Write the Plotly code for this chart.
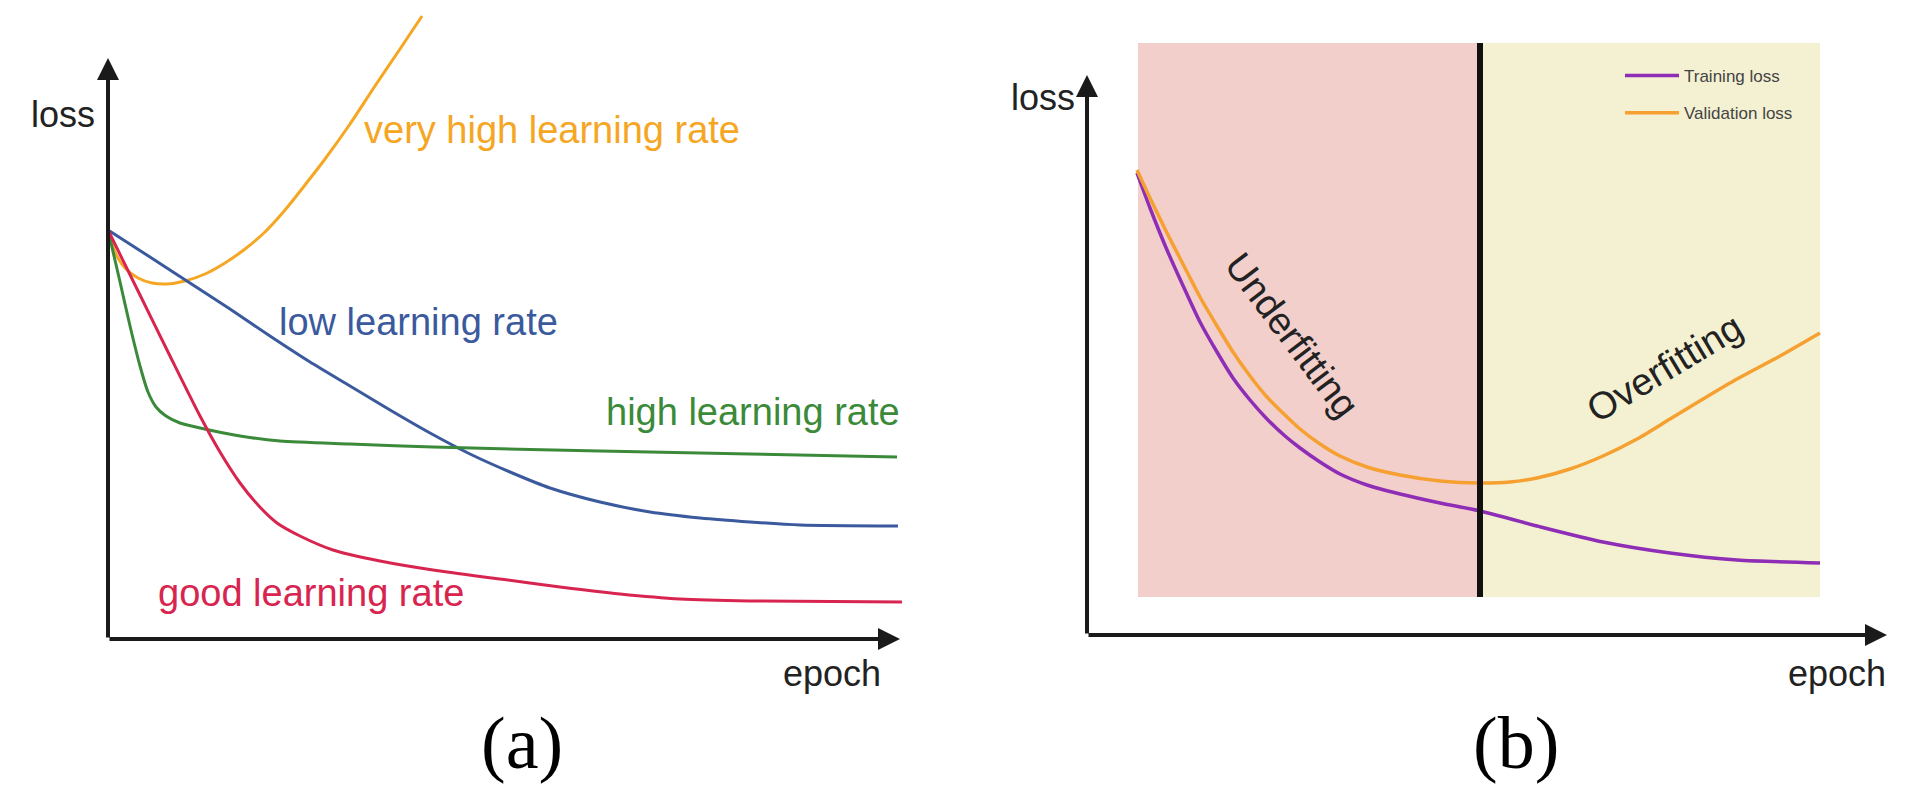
import plotly.graph_objects as go

# ---------------- Panel (a): learning rates ----------------
a_very_high_epoch = [0, 0.88, 2.15, 3.79, 5.56, 7.45, 9.72, 12.25, 14.77, 17.30, 19.82, 22.35, 24.87, 27.40, 30.56, 33.71, 36.87, 39.65]
a_very_high_loss = [81.8, 77.4, 74.2, 72.2, 71.2, 71.0, 71.6, 73.0, 75.2, 78.0, 81.4, 85.8, 90.8, 96.0, 103.0, 110.6, 118.0, 124.6]

a_low_epoch = [0, 5.30, 10.35, 15.40, 20.45, 25.51, 30.56, 35.61, 40.66, 45.71, 50.76, 55.81, 62.12, 68.43, 74.75, 81.06, 87.37, 99.75]
a_low_loss = [81.8, 76.4, 71.2, 66.0, 60.6, 55.4, 50.6, 45.8, 41.2, 37.0, 33.4, 30.2, 27.4, 25.4, 24.2, 23.4, 22.8, 22.6]

a_high_epoch = [0, 1.52, 2.78, 4.04, 5.05, 6.06, 7.32, 9.09, 11.62, 16.67, 21.72, 30.56, 41.04, 62.12, 81.06, 99.62]
a_high_loss = [81.8, 71.4, 62.6, 54.6, 49.4, 46.4, 44.6, 43.2, 42.2, 40.6, 39.6, 39.0, 38.4, 37.6, 37.0, 36.4]

a_good_epoch = [0, 4.04, 7.83, 11.62, 14.14, 16.67, 18.94, 21.34, 24.24, 28.41, 34.34, 41.04, 49.49, 57.07, 64.65, 72.22, 81.06, 100.25]
a_good_loss = [81.8, 68.8, 56.6, 44.6, 37.4, 31.2, 26.8, 23.2, 20.6, 17.8, 15.6, 13.8, 12.0, 10.4, 9.0, 8.0, 7.6, 7.4]

a_labels = ["very high learning rate", "low learning rate", "high learning rate", "good learning rate"]

# ---------------- Panel (b): under/overfitting ----------------
b_train_epoch = [6.25, 7.875, 10.0, 12.25, 14.125, 16.25, 18.25, 20.375, 22.5, 24.75, 26.625, 29.125, 31.625, 35.0,
                 39.125, 44.125, 49.125, 56.25, 64.5, 72.875, 81.25, 91.625]
b_train_loss = [92.4, 85.4, 77.0, 69.0, 62.6, 56.6, 51.4, 47.0, 43.2, 39.8, 37.4, 34.6, 32.2, 30.0,
                28.2, 26.4, 24.8, 21.8, 18.6, 16.4, 15.0, 14.4]

b_val_epoch = [6.25, 7.875, 10.0, 12.25, 14.125, 16.25, 18.25, 20.375, 22.5, 24.75, 26.625, 29.125, 31.625, 35.0,
               39.125, 44.125, 49.125, 52.875, 56.25, 60.375, 64.5, 68.75, 72.875, 77.0, 81.25, 86.625, 91.625]
b_val_loss = [93.0, 87.4, 80.4, 73.4, 67.6, 61.8, 56.6, 51.8, 47.6, 44.0, 41.2, 38.2, 35.8, 33.6,
              32.0, 30.8, 30.4, 30.6, 31.4, 33.2, 35.8, 39.2, 43.2, 47.2, 51.2, 55.8, 60.4]

b_region_epochs = [6.375, 49.125, 91.625]   # start, split, end
b_region_loss = [7.6, 118.4]                # bottom, top
b_series_names = ["Training loss", "Validation loss"]

# ---------------- Styling ----------------
C_ORANGE = "#F5A623"
C_BLUE = "#3B5A9D"
C_GREEN = "#3B8A3A"
C_RED = "#D8254F"
C_PURPLE = "#8E2DB5"
C_VAL = "#F5A030"
TXT = "#222222"
FONT = "Liberation Sans, Arial, Helvetica, sans-serif"
SERIF = "Liberation Serif, Times New Roman, serif"

W, H = 1920, 797
PAGE_OFF = 8  # default page margin of the html body

# axis scaling (screen pixel of origin, pixels per unit)
A_X0, A_SX, A_Y0, A_SY = 108, 7.92, 639, 5.0
B_X0, B_SX, B_Y0, B_SY = 1087, 8.0, 635, 5.0

def xr(x0, sx, left, right):
    return [(left + PAGE_OFF - x0) / sx, (right + PAGE_OFF - x0) / sx]

def yr(y0, sy):
    return [(y0 - (H + PAGE_OFF)) / sy, (y0 - PAGE_OFF) / sy]

fig = go.Figure()

def add_a(x, y, color):
    fig.add_trace(go.Scatter(x=x, y=y, mode="lines", line=dict(color=color, width=3, shape="spline", smoothing=0.7),
                             showlegend=False, hoverinfo="skip", xaxis="x", yaxis="y"))

add_a(a_very_high_epoch, a_very_high_loss, C_ORANGE)
add_a(a_low_epoch, a_low_loss, C_BLUE)
add_a(a_high_epoch, a_high_loss, C_GREEN)
add_a(a_good_epoch, a_good_loss, C_RED)

fig.add_trace(go.Scatter(x=b_train_epoch, y=b_train_loss, mode="lines", name=b_series_names[0], legendgroup="t",
                         line=dict(color=C_PURPLE, width=3.5, shape="spline", smoothing=0.7),
                         hoverinfo="skip", xaxis="x2", yaxis="y2"))
fig.add_trace(go.Scatter(x=b_val_epoch, y=b_val_loss, mode="lines", name=b_series_names[1], legendgroup="v",
                         line=dict(color=C_VAL, width=3.5, shape="spline", smoothing=0.7),
                         hoverinfo="skip", xaxis="x2", yaxis="y2"))

# Regions panel (b)
fig.add_shape(type="rect", xref="x2", yref="y2", x0=b_region_epochs[0], x1=b_region_epochs[1],
              y0=b_region_loss[0], y1=b_region_loss[1], fillcolor="#F2CFCB", line=dict(width=0), layer="below")
fig.add_shape(type="rect", xref="x2", yref="y2", x0=b_region_epochs[1], x1=b_region_epochs[2],
              y0=b_region_loss[0], y1=b_region_loss[1], fillcolor="#F4F1D3", line=dict(width=0), layer="below")
fig.add_shape(type="line", xref="x2", yref="y2", x0=b_region_epochs[1], x1=b_region_epochs[1],
              y0=b_region_loss[0], y1=b_region_loss[1], line=dict(color="#111111", width=6))

annotations = []

def axis_arrow(xa, ya, x, y, ax, ay):
    annotations.append(dict(xref=xa, yref=ya, axref=xa, ayref=ya, x=x, y=y, ax=ax, ay=ay, text="",
                            showarrow=True, arrowhead=2, arrowsize=1.1, arrowwidth=4, arrowcolor="#1a1a1a"))

axis_arrow("x", "y", 100, 0, 0, 0)
axis_arrow("x", "y", 0, 116.2, 0, 0)
axis_arrow("x2", "y2", 100, 0, 0, 0)
axis_arrow("x2", "y2", 0, 112, 0, 0)

def txt(xa, ya, x, y, s, color=TXT, size=36, xanchor="center", angle=0, family=FONT):
    annotations.append(dict(xref=xa, yref=ya, x=x, y=y, text=s, showarrow=False, xanchor=xanchor, yanchor="middle",
                            textangle=angle, font=dict(family=family, size=size, color=color)))

txt("x", "y", 32.1, 101.8, a_labels[0], C_ORANGE, size=38, xanchor="left")
txt("x", "y", 21.3, 63.4, a_labels[1], C_BLUE, size=38, xanchor="left")
txt("x", "y", 62.6, 45.4, a_labels[2], C_GREEN, size=38, xanchor="left")
txt("x", "y", 6.0, 9.2, a_labels[3], C_RED, size=38, xanchor="left")
txt("x", "y", -1.39, 105, "loss", xanchor="right")
txt("x", "y", 91.4, -6.8, "epoch")
txt("x", "y", 52.3, -20.8, "(a)", "#000000", size=74, family=SERIF)

txt("x2", "y2", -1.25, 107.6, "loss", xanchor="right")
txt("x2", "y2", 93.75, -7.6, "epoch")
txt("x2", "y2", 53.6, -21.6, "(b)", "#000000", size=74, family=SERIF)
txt("x2", "y2", 25.6, 60, "Underfitting", size=38, angle=53)
txt("x2", "y2", 72.2, 53.4, "Overfitting", size=38, angle=-31)

fig.update_layout(
    width=W, height=H,
    margin=dict(l=0, r=0, t=0, b=0),
    paper_bgcolor="white", plot_bgcolor="white",
    xaxis=dict(domain=[0, 0.5], range=xr(A_X0, A_SX, 0, 960), visible=False, fixedrange=True),
    yaxis=dict(domain=[0, 1], range=yr(A_Y0, A_SY), visible=False, fixedrange=True),
    xaxis2=dict(domain=[0.5, 1], range=xr(B_X0, B_SX, 960, 1920), visible=False, fixedrange=True),
    yaxis2=dict(domain=[0, 1], range=yr(B_Y0, B_SY), visible=False, fixedrange=True, anchor="x2"),
    annotations=annotations,
    showlegend=True,
    legend=dict(x=(1620 - PAGE_OFF) / W, y=1 - (58 - PAGE_OFF) / H, xanchor="left", yanchor="top",
                bgcolor="rgba(0,0,0,0)", font=dict(family=FONT, size=17, color="#444444"),
                itemwidth=54, tracegroupgap=12, traceorder="grouped"),
)

fig.write_html("out.html")
